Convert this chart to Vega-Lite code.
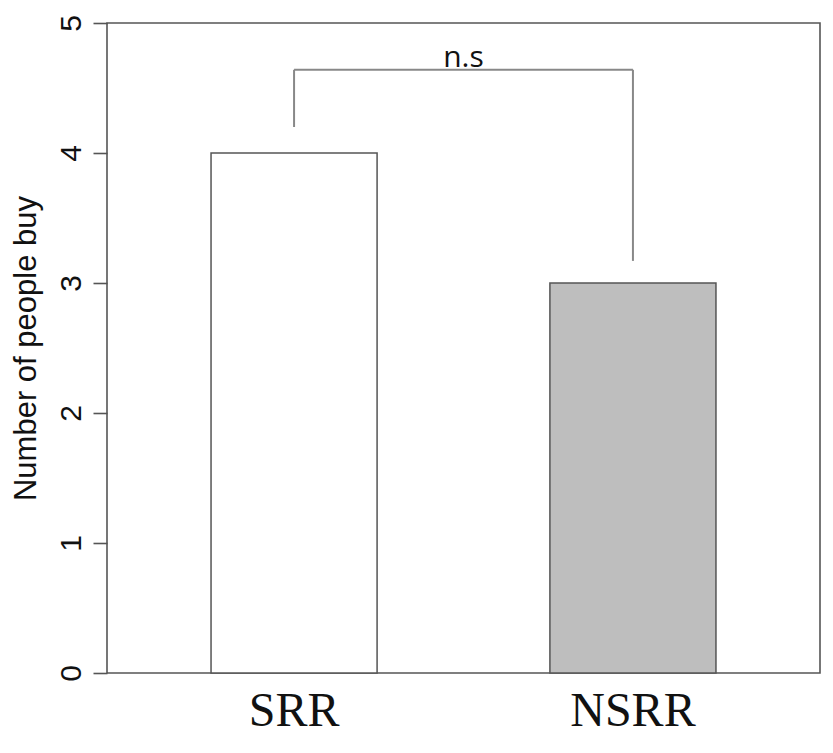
{
  "$schema": "https://vega.github.io/schema/vega-lite/v6.json",
  "autosize": {"type": "none"},
  "width": 713,
  "height": 650,
  "padding": {"left": 107, "top": 23, "right": 13, "bottom": 80},
  "background": "white",
  "config": {
    "view": {"stroke": "#555555", "strokeWidth": 1.6},
    "font": "Liberation Sans"
  },
  "datasets": {
    "bars": [
      {"group": "SRR", "count": 4},
      {"group": "NSRR", "count": 3}
    ],
    "legs": [
      {"group": "SRR", "low": 4.2, "high": 4.64},
      {"group": "NSRR", "low": 3.17, "high": 4.64}
    ],
    "span": [
      {"from": "SRR", "to": "NSRR", "level": 4.64}
    ],
    "note": [
      {"label": "n.s", "level": 4.665}
    ]
  },
  "layer": [
    {
      "data": {"name": "bars"},
      "mark": {"type": "bar", "stroke": "#555555", "strokeWidth": 1.5},
      "encoding": {
        "x": {
          "field": "group", "type": "nominal",
          "scale": {"domain": ["SRR", "NSRR"], "paddingInner": 0.51, "paddingOuter": 0.307},
          "axis": {
            "title": null, "ticks": false, "domain": false, "labelAngle": 0,
            "labelFont": "Liberation Serif", "labelFontSize": 48, "labelColor": "#111111",
            "labelPadding": 14
          }
        },
        "y": {
          "field": "count", "type": "quantitative",
          "scale": {"domain": [0, 5], "nice": false},
          "axis": {
            "title": "Number of people buy", "titleFont": "Liberation Sans", "titleFontSize": 31, "titleFontWeight": "normal",
            "titleColor": "#111111", "titlePadding": 14,
            "values": [0, 1, 2, 3, 4, 5], "format": "d", "grid": false, "domain": false,
            "tickColor": "#555555", "tickSize": 14, "tickWidth": 1.6,
            "labelFont": "Liberation Sans", "labelAngle": -90, "labelFontSize": 30, "labelColor": "#111111", "labelPadding": 7
          }
        },
        "color": {
          "field": "group", "type": "nominal",
          "scale": {"domain": ["SRR", "NSRR"], "range": ["#ffffff", "#bebebe"]},
          "legend": null
        }
      }
    },
    {
      "data": {"name": "legs"},
      "mark": {"type": "rule", "stroke": "#888888", "strokeWidth": 2},
      "encoding": {
        "x": {"field": "group", "type": "nominal"},
        "y": {"field": "low", "type": "quantitative"},
        "y2": {"field": "high"}
      }
    },
    {
      "data": {"name": "span"},
      "mark": {"type": "rule", "stroke": "#888888", "strokeWidth": 2},
      "encoding": {
        "x": {"field": "from", "type": "nominal"},
        "x2": {"field": "to"},
        "y": {"field": "level", "type": "quantitative"}
      }
    },
    {
      "data": {"name": "note"},
      "mark": {"type": "text", "font": "Open Sans", "fontSize": 30, "baseline": "alphabetic", "align": "center", "color": "#111111"},
      "encoding": {
        "y": {"field": "level", "type": "quantitative"},
        "text": {"field": "label"}
      }
    }
  ]
}
